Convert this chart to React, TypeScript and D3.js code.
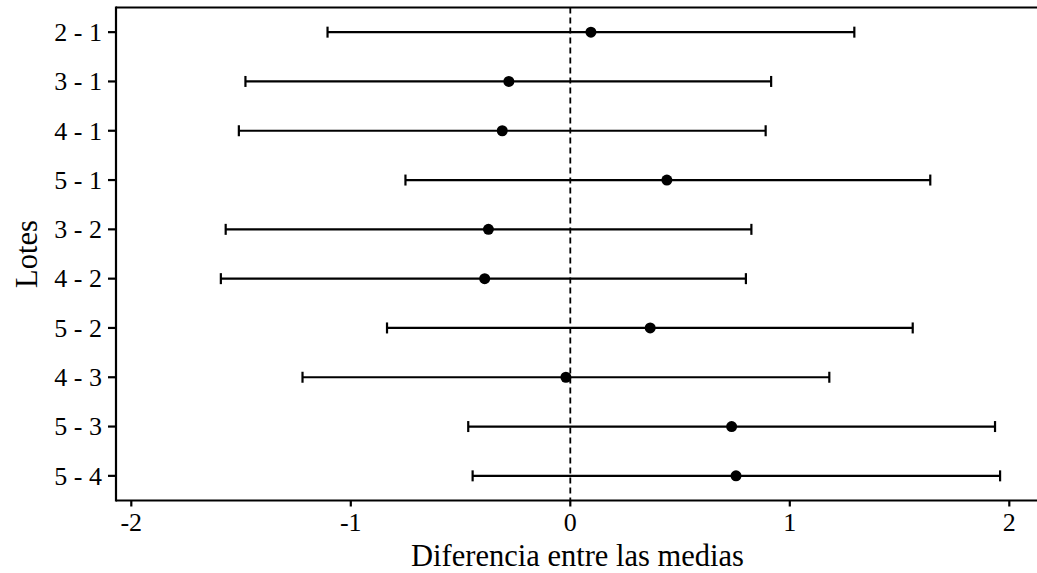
import React from "react";
import * as d3 from "d3";

const comparisons = ["2 - 1", "3 - 1", "4 - 1", "5 - 1", "3 - 2", "4 - 2", "5 - 2", "4 - 3", "5 - 3", "5 - 4"];
const diffs = [0.094, -0.28, -0.31, 0.44, -0.373, -0.39, 0.364, -0.02, 0.735, 0.755];
const lowers = [-1.106, -1.48, -1.51, -0.751, -1.57, -1.592, -0.835, -1.22, -0.465, -0.445];
const uppers = [1.294, 0.915, 0.89, 1.64, 0.825, 0.80, 1.56, 1.18, 1.935, 1.958];
const xTicks = [-2, -1, 0, 1, 2];

const W = 1037;
const H = 573;
const left = 116;
const right = 1037;
const top = 7.5;
const bottom = 500.5;

export default function App() {
  const x = d3.scaleLinear().domain([-2, 2]).range([131.3, 1009.3]);
  const y = d3.scalePoint<string>().domain(comparisons).range([top, bottom]).padding(0.5);
  const font = "'Liberation Serif', 'Times New Roman', serif";
  const cap = 5.5;
  return (
    <svg width={W} height={H} style={{ position: "absolute", left: 0, top: 0, background: "#fff" }}>
      <rect x={0} y={0} width={W} height={H} fill="#fff" />
      <line x1={x(0)} x2={x(0)} y1={top} y2={bottom} stroke="#000" strokeWidth={1.8} strokeDasharray="6,4" />
      {comparisons.map((c, i) => {
        const yy = y(c) as number;
        return (
          <g key={c}>
            <line x1={x(lowers[i])} x2={x(uppers[i])} y1={yy} y2={yy} stroke="#000" strokeWidth={2.2} />
            <line x1={x(lowers[i])} x2={x(lowers[i])} y1={yy - cap} y2={yy + cap} stroke="#000" strokeWidth={2.2} />
            <line x1={x(uppers[i])} x2={x(uppers[i])} y1={yy - cap} y2={yy + cap} stroke="#000" strokeWidth={2.2} />
            <circle cx={x(diffs[i])} cy={yy} r={5.5} fill="#000" />
          </g>
        );
      })}
      <line x1={left} x2={right} y1={top} y2={top} stroke="#000" strokeWidth={2.2} />
      <line x1={left} x2={right} y1={bottom} y2={bottom} stroke="#000" strokeWidth={2.2} />
      <line x1={left} x2={left} y1={top - 1} y2={bottom + 1} stroke="#000" strokeWidth={2.2} />
      {xTicks.map((t) => (
        <g key={t}>
          <line x1={x(t)} x2={x(t)} y1={bottom} y2={bottom + 6} stroke="#000" strokeWidth={2.2} />
          <text x={x(t)} y={530.5} textAnchor="middle" fontFamily={font} fontSize={26} fill="#000">
            {t < 0 ? "-" + Math.abs(t) : String(t)}
          </text>
        </g>
      ))}
      {comparisons.map((c) => {
        const yy = y(c) as number;
        return (
          <g key={"yt" + c}>
            <line x1={left - 8} x2={left} y1={yy} y2={yy} stroke="#000" strokeWidth={2.2} />
            <text x={102} y={yy + 8.8} textAnchor="end" fontFamily={font} fontSize={26} fill="#000">
              {c}
            </text>
          </g>
        );
      })}
      <text x={(left + right) / 2 + 1} y={566} textAnchor="middle" fontFamily={font} fontSize={30.5} fill="#000">
        Diferencia entre las medias
      </text>
      <text
        transform={`translate(${37}, ${(top + bottom) / 2}) rotate(-90)`}
        textAnchor="middle"
        fontFamily={font}
        fontSize={30.5}
        fill="#000"
      >
        Lotes
      </text>
    </svg>
  );
}
